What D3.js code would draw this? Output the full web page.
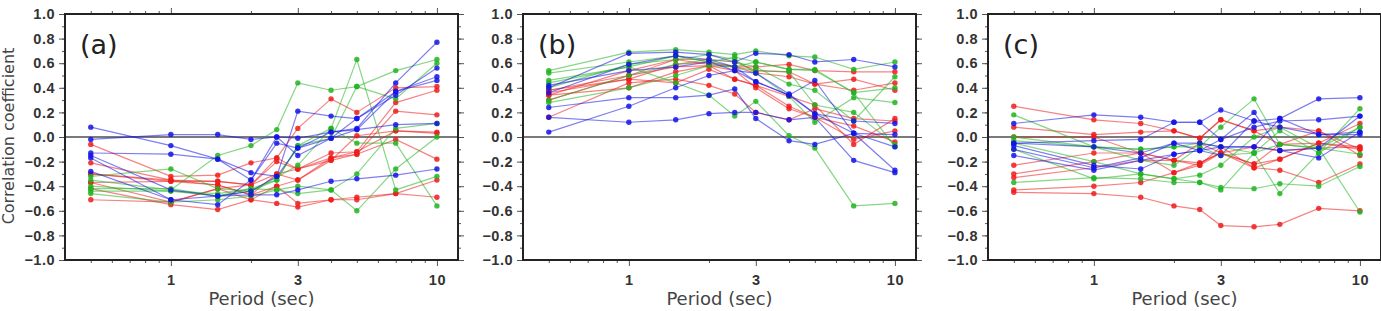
<!DOCTYPE html>
<html><head><meta charset="utf-8">
<script src="https://cdn.jsdelivr.net/npm/d3@7"></script>
<style>body{margin:0;background:#fff}svg{display:block}</style>
</head><body>
<script>
const periods = [0.5, 1, 1.5, 2, 2.5, 3, 4, 5, 7, 10];
const yTicks = [-1.0,-0.8,-0.6,-0.4,-0.2,0.0,0.2,0.4,0.6,0.8,1.0];
const xMajor = [1, 3, 10];
const xMinor = [0.5,0.6,0.7,0.8,0.9,2,4,5,6,7,8,9];
const panelLabels = ["(a)", "(b)", "(c)"];

const aRed = [
 [-0.06,-0.32,-0.31,-0.21,-0.17,0.07,0.31,0.20,0.40,0.41],
 [-0.21,-0.35,-0.36,-0.39,-0.20,-0.26,-0.13,-0.12,0.28,0.38],
 [-0.30,-0.36,-0.39,-0.47,-0.30,-0.35,-0.17,-0.14,0.21,0.18],
 [-0.37,-0.53,-0.42,-0.51,-0.40,-0.54,-0.51,-0.49,-0.46,-0.35],
 [-0.42,-0.55,-0.59,-0.51,-0.54,-0.57,-0.51,-0.51,-0.46,-0.49],
 [-0.51,-0.53,-0.42,-0.39,-0.17,-0.26,-0.19,0.01,0.05,0.03],
 [-0.30,-0.35,-0.39,-0.47,-0.40,-0.35,-0.19,-0.14,-0.02,-0.18],
 [-0.37,-0.36,-0.36,-0.39,-0.30,-0.26,-0.17,-0.12,0.05,0.04]
];
const aGreen = [
 [-0.35,-0.43,-0.15,-0.07,0.06,0.44,0.38,0.41,0.54,0.63],
 [-0.32,-0.26,-0.42,-0.44,-0.35,-0.07,0.07,0.63,-0.43,-0.32],
 [-0.44,-0.44,-0.46,-0.42,-0.43,-0.40,-0.43,-0.60,-0.26,0.00],
 [-0.46,-0.53,-0.51,-0.48,-0.43,-0.46,-0.43,-0.30,0.07,0.11],
 [-0.40,-0.44,-0.48,-0.44,-0.33,-0.23,0.07,-0.05,-0.05,-0.56],
 [-0.42,-0.42,-0.48,-0.42,-0.35,-0.07,-0.01,0.41,0.31,0.60]
];
const aBlue = [
 [0.08,-0.07,-0.18,-0.29,-0.32,0.21,0.17,0.15,0.37,0.46],
 [-0.02,0.02,0.02,-0.02,0.00,-0.01,0.04,0.06,0.10,0.11],
 [-0.13,-0.14,-0.18,-0.35,-0.05,-0.09,0.04,0.07,0.44,0.77],
 [-0.15,-0.43,-0.48,-0.47,-0.47,-0.43,-0.36,-0.34,-0.31,-0.26],
 [-0.17,-0.51,-0.55,-0.35,0.00,-0.15,-0.01,0.15,0.34,0.56],
 [-0.28,-0.51,-0.48,-0.44,-0.32,-0.09,-0.01,0.06,0.37,0.49]
];

const bRed = [
 [0.16,0.44,0.47,0.42,0.35,0.20,0.14,0.23,0.15,0.13],
 [0.34,0.40,0.53,0.58,0.47,0.42,0.25,0.16,-0.02,0.05],
 [0.36,0.47,0.59,0.61,0.57,0.57,0.59,0.54,0.53,0.53],
 [0.38,0.50,0.63,0.63,0.61,0.54,0.53,0.43,0.47,0.38],
 [0.30,0.50,0.57,0.58,0.54,0.40,0.23,0.16,0.09,-0.04],
 [0.34,0.54,0.63,0.59,0.57,0.52,0.49,0.43,0.38,0.44],
 [0.38,0.47,0.44,0.55,0.47,0.42,0.33,0.26,-0.06,0.15]
];
const bGreen = [
 [0.54,0.69,0.71,0.69,0.67,0.70,0.66,0.65,0.55,0.61],
 [0.52,0.61,0.66,0.61,0.65,0.61,0.55,0.55,0.36,0.40],
 [0.46,0.57,0.44,0.34,0.17,0.29,0.01,-0.09,-0.56,-0.54],
 [0.30,0.50,0.59,0.63,0.61,0.57,0.43,0.38,0.13,0.49],
 [0.28,0.40,0.50,0.58,0.57,0.54,0.53,0.26,0.20,-0.06],
 [0.40,0.59,0.63,0.67,0.63,0.52,0.33,0.12,0.32,0.28],
 [0.44,0.57,0.66,0.61,0.57,0.61,0.55,0.54,0.36,-0.08]
];
const bBlue = [
 [0.04,0.25,0.40,0.50,0.54,0.45,0.34,0.19,0.03,-0.08],
 [0.16,0.12,0.14,0.19,0.20,0.20,0.14,0.16,-0.19,-0.29],
 [0.24,0.32,0.32,0.34,0.39,0.15,-0.03,-0.06,0.03,0.02],
 [0.40,0.68,0.69,0.67,0.61,0.68,0.67,0.61,0.63,0.57],
 [0.36,0.59,0.66,0.63,0.57,0.45,0.34,0.46,0.03,-0.27],
 [0.42,0.54,0.57,0.61,0.54,0.52,0.35,0.19,0.13,0.11]
];

const cRed = [
 [0.25,0.14,0.11,0.05,-0.01,0.14,0.05,0.08,0.05,-0.15],
 [0.08,0.02,0.04,0.05,-0.01,0.14,0.05,-0.06,-0.05,0.11],
 [-0.23,-0.13,-0.13,-0.19,-0.21,-0.13,-0.22,-0.18,-0.05,-0.08],
 [-0.30,-0.20,-0.13,-0.29,-0.23,-0.08,-0.25,-0.27,-0.37,-0.22],
 [-0.33,-0.25,-0.19,-0.19,-0.05,-0.13,-0.22,-0.06,0.05,-0.10],
 [-0.43,-0.40,-0.37,-0.29,-0.21,-0.13,-0.25,-0.18,-0.05,-0.10],
 [-0.45,-0.46,-0.49,-0.56,-0.59,-0.72,-0.73,-0.71,-0.58,-0.60],
 [0.00,0.00,-0.13,-0.19,-0.23,-0.13,-0.08,-0.11,-0.09,-0.08]
];
const cGreen = [
 [0.18,-0.08,-0.10,-0.08,-0.08,0.08,0.31,-0.06,-0.09,-0.61],
 [0.00,-0.08,-0.19,-0.23,-0.08,-0.15,-0.13,0.05,-0.13,0.23],
 [-0.05,-0.20,-0.30,-0.34,-0.31,-0.23,0.00,0.08,-0.09,-0.14],
 [-0.37,-0.33,-0.34,-0.37,-0.37,-0.41,-0.42,-0.38,-0.40,-0.24],
 [-0.10,-0.34,-0.30,-0.34,-0.37,-0.43,-0.13,-0.46,-0.13,0.08],
 [-0.03,-0.08,-0.10,-0.08,-0.05,-0.08,-0.13,-0.06,-0.09,0.08]
];
const cBlue = [
 [0.11,0.18,0.16,0.12,0.12,0.22,0.13,0.15,0.31,0.32],
 [-0.05,-0.03,-0.02,0.12,0.12,-0.02,0.08,0.13,0.14,0.17],
 [-0.07,-0.23,-0.26,-0.14,-0.11,-0.02,0.20,-0.11,-0.17,0.04],
 [-0.10,-0.25,-0.17,-0.05,-0.05,-0.08,-0.08,0.15,0.02,0.02],
 [-0.15,-0.27,-0.19,-0.14,-0.11,-0.15,0.13,0.08,0.02,0.04],
 [-0.05,-0.08,-0.13,-0.05,-0.11,-0.08,-0.08,-0.11,-0.09,0.17]
];

const panels = [
  {label: panelLabels[0], red: aRed, green: aGreen, blue: aBlue},
  {label: panelLabels[1], red: bRed, green: bGreen, blue: bBlue},
  {label: panelLabels[2], red: cRed, green: cGreen, blue: cBlue}
];
const colors = {red: "#ee1c1c", green: "#22b422", blue: "#1414e6"};

const W = 1381, H = 311;
const svg = d3.select("body").append("svg").attr("width", W).attr("height", H);
const leftX = [65, 523, 988], pw = 393, topY = 14, bottomY = 260;
const tickFont = "'Liberation Sans', Arial, sans-serif";
const txtFont = "'DejaVu Sans', sans-serif";

svg.append("text")
  .attr("transform", `translate(14,136) rotate(-90)`)
  .attr("text-anchor", "middle")
  .attr("font-family", txtFont).attr("font-size", 16).attr("fill", "#444")
  .text("Correlation coefficient");

panels.forEach((p, i) => {
  const x = d3.scaleLog().domain([0.4, 12]).range([leftX[i], leftX[i] + pw]);
  const y = d3.scaleLinear().domain([-1, 1]).range([bottomY, topY]);
  const g = svg.append("g");
  const minorY = d3.range(-10, 11).map(d => d / 10);

  const axL = d3.axisLeft(y).tickValues(yTicks).tickSize(6).tickPadding(4).tickFormat(d3.format(".1f"));
  const axLm = d3.axisLeft(y).tickValues(minorY).tickSize(3).tickFormat("");
  const axR = d3.axisRight(y).tickValues(yTicks).tickSize(6).tickFormat("");
  const axRm = d3.axisRight(y).tickValues(minorY).tickSize(3).tickFormat("");
  const axB = d3.axisBottom(x).tickValues(xMajor).tickSize(6).tickPadding(9).tickFormat(d3.format("d"));
  const axBm = d3.axisBottom(x).tickValues(xMinor).tickSize(3).tickFormat("");
  const axT = d3.axisTop(x).tickValues(xMajor).tickSize(6).tickFormat("");
  const axTm = d3.axisTop(x).tickValues(xMinor).tickSize(3).tickFormat("");
  const put = (ax, tr) => {
    const a = g.append("g").attr("transform", tr).call(ax);
    a.select(".domain").remove();
    a.selectAll("line").attr("stroke", "#555").attr("stroke-width", 1);
    a.selectAll("text").attr("font-family", tickFont).attr("font-weight", "bold")
      .attr("font-size", 14.5).attr("fill", "#333").attr("letter-spacing", "0.5px");
    return a;
  };
  put(axLm, `translate(${leftX[i]},0)`);
  put(axL, `translate(${leftX[i]},0)`).selectAll("text").text(d => d3.format(".1f")(d).replace("-", "−"));
  put(axRm, `translate(${leftX[i]+pw},0)`);
  put(axR, `translate(${leftX[i]+pw},0)`);
  put(axBm, `translate(0,${bottomY})`);
  put(axB, `translate(0,${bottomY})`);
  put(axTm, `translate(0,${topY})`);
  put(axT, `translate(0,${topY})`);

  g.append("line").attr("x1", leftX[i]).attr("x2", leftX[i] + pw)
    .attr("y1", y(0)).attr("y2", y(0)).attr("stroke", "#7a7a7a").attr("stroke-width", 2);

  const line = d3.line().x((d, k) => x(periods[k])).y(d => y(d));
  ["red", "green", "blue"].forEach(c => {
    p[c].forEach(s => {
      g.append("path").attr("d", line(s)).attr("fill", "none")
        .attr("stroke", colors[c]).attr("stroke-width", 1.2).attr("stroke-opacity", 0.55);
    });
  });
  ["red", "green", "blue"].forEach(c => {
    p[c].forEach(s => {
      g.selectAll(null).data(s).enter().append("circle")
        .attr("cx", (d, k) => x(periods[k])).attr("cy", d => y(d)).attr("r", 2.7)
        .attr("fill", colors[c]).attr("fill-opacity", 0.85);
    });
  });

  g.append("rect").attr("x", leftX[i]).attr("y", topY).attr("width", pw).attr("height", bottomY - topY)
    .attr("fill", "none").attr("stroke", "#222").attr("stroke-width", 2);

  g.append("text").attr("x", leftX[i] + 15).attr("y", 54)
    .attr("font-family", txtFont).attr("font-size", 27).attr("fill", "#222")
    .text(p.label);
  g.append("text").attr("x", leftX[i] + pw / 2).attr("y", 305)
    .attr("text-anchor", "middle")
    .attr("font-family", txtFont).attr("font-size", 18).attr("fill", "#444")
    .text("Period (sec)");
});
</script>
</body></html>
